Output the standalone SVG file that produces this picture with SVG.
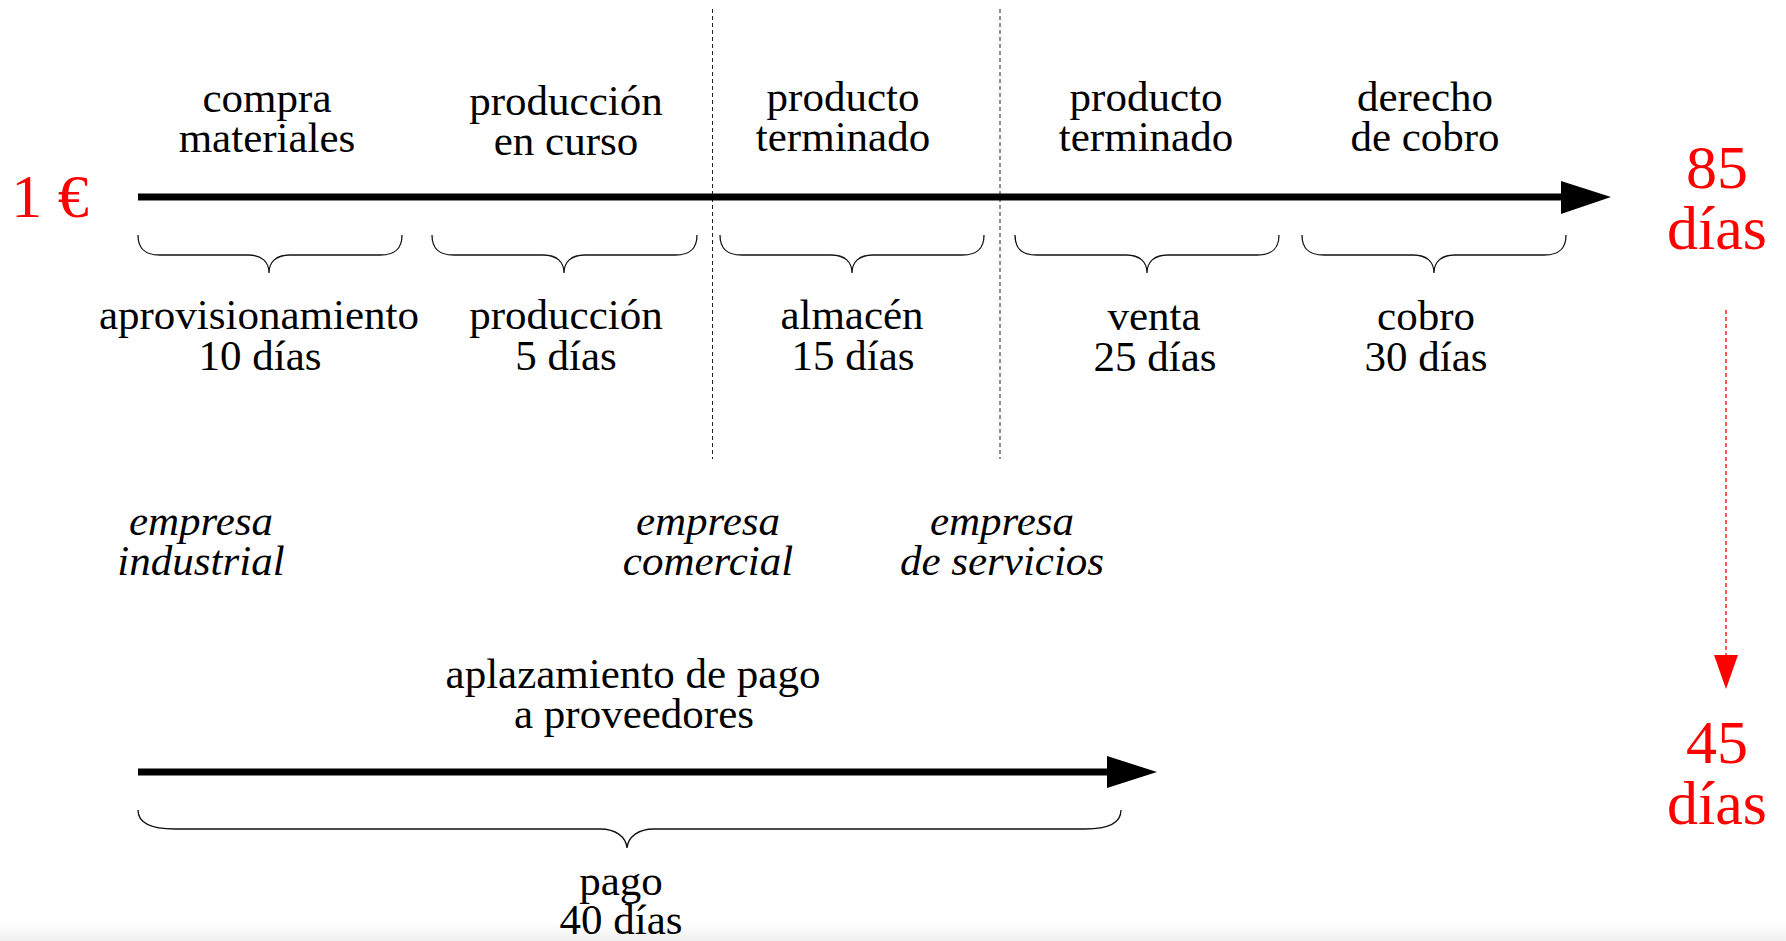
<svg xmlns="http://www.w3.org/2000/svg" width="1786" height="941" viewBox="0 0 1786 941">
<style>
.t{font-family:"Liberation Serif","Times New Roman",serif;font-size:43px;fill:#000;text-anchor:middle}
.i{font-style:italic}
.r{font-family:"Liberation Serif","Times New Roman",serif;font-size:62px;fill:#ff0000;text-anchor:middle}
.brace{fill:none;stroke:#111;stroke-width:1.3}
.axis{stroke:#000;stroke-width:7}
.vdash{stroke:#222;stroke-width:1;stroke-dasharray:4 3}
.rdash{stroke:#ff2020;stroke-width:1.5;stroke-dasharray:4 3}
</style>
<defs>
<linearGradient id="band" x1="0" y1="0" x2="0" y2="1">
<stop offset="0" stop-color="#ffffff"/>
<stop offset="1" stop-color="#f0f0f0"/>
</linearGradient>
</defs>
<rect width="1786" height="941" fill="#fff"/>
<rect x="0" y="922" width="1786" height="19" fill="url(#band)"/>

<g id="separators">
<line class="vdash" x1="712.5" y1="9" x2="712.5" y2="459"/>
<line class="vdash" x1="1000" y1="9" x2="1000" y2="459"/>
</g>

<g id="connectors">
<line class="axis" x1="138" y1="197" x2="1562" y2="197"/>
<polygon points="1561,181 1611,197 1561,214" fill="#000"/>
<line class="axis" x1="138" y1="772" x2="1108" y2="772"/>
<polygon points="1107,756 1157,772 1107,788" fill="#000"/>
<line class="rdash" x1="1726" y1="310" x2="1726" y2="656"/>
<polygon points="1714,655 1738,655 1726,689" fill="#ff0000"/>
</g>

<g id="braces">
<path class="brace" d="M138,235 C138,248 144,255 160,255 L248,255 C262,255 269,262 269,273 C269,262 276,255 290,255 L380,255 C396,255 402,248 402,235"/>
<path class="brace" d="M432,235 C432,248 438,255 454,255 L543,255 C557,255 564,262 564,273 C564,262 571,255 585,255 L675,255 C691,255 697,248 697,235"/>
<path class="brace" d="M720,235 C720,248 726,255 742,255 L831,255 C845,255 852,262 852,273 C852,262 859,255 873,255 L962,255 C978,255 984,248 984,235"/>
<path class="brace" d="M1015,235 C1015,248 1021,255 1037,255 L1126,255 C1140,255 1147,262 1147,273 C1147,262 1154,255 1168,255 L1257,255 C1273,255 1279,248 1279,235"/>
<path class="brace" d="M1302,235 C1302,248 1308,255 1324,255 L1413,255 C1427,255 1434,262 1434,273 C1434,262 1441,255 1455,255 L1544,255 C1560,255 1566,248 1566,235"/>
<path class="brace" d="M138,810 C138,821 148,829 175,829 L600,829 C616,829 626,837 627,848 C628,837 638,829 654,829 L1085,829 C1112,829 1121,821 1121,810"/>
</g>

<g id="start"><text class="r" x="50" y="217">1 €</text></g>

<g id="top-compra"><text class="t" x="267" y="112">compra</text><text class="t" x="267" y="152">materiales</text></g>
<g id="top-produccion"><text class="t" x="566" y="115">producción</text><text class="t" x="566" y="155">en curso</text></g>
<g id="top-terminado1"><text class="t" x="843" y="111">producto</text><text class="t" x="843" y="151">terminado</text></g>
<g id="top-terminado2"><text class="t" x="1146" y="111">producto</text><text class="t" x="1146" y="151">terminado</text></g>
<g id="top-derecho"><text class="t" x="1425" y="111">derecho</text><text class="t" x="1425" y="151">de cobro</text></g>

<g id="aprovisionamiento"><text class="t" x="259" y="329">aprovisionamiento</text><text class="t" x="260" y="370">10 días</text></g>
<g id="produccion"><text class="t" x="566" y="329">producción</text><text class="t" x="566" y="370">5 días</text></g>
<g id="almacen"><text class="t" x="852" y="329">almacén</text><text class="t" x="853" y="370">15 días</text></g>
<g id="venta"><text class="t" x="1154" y="330">venta</text><text class="t" x="1155" y="371">25 días</text></g>
<g id="cobro"><text class="t" x="1426" y="330">cobro</text><text class="t" x="1426" y="371">30 días</text></g>

<g id="total85"><text class="r" x="1717" y="188">85</text><text class="r" x="1717" y="249">días</text></g>
<g id="total45"><text class="r" x="1717" y="763">45</text><text class="r" x="1717" y="824">días</text></g>

<g id="industrial"><text class="t i" x="201" y="535">empresa</text><text class="t i" x="201" y="575">industrial</text></g>
<g id="comercial"><text class="t i" x="708" y="535">empresa</text><text class="t i" x="708" y="575">comercial</text></g>
<g id="servicios"><text class="t i" x="1002" y="535">empresa</text><text class="t i" x="1002" y="575">de servicios</text></g>

<g id="aplazamiento"><text class="t" x="633" y="688">aplazamiento de pago</text><text class="t" x="634" y="728">a proveedores</text></g>
<g id="pago"><text class="t" x="621" y="895">pago</text><text class="t" x="621" y="934">40 días</text></g>
</svg>
